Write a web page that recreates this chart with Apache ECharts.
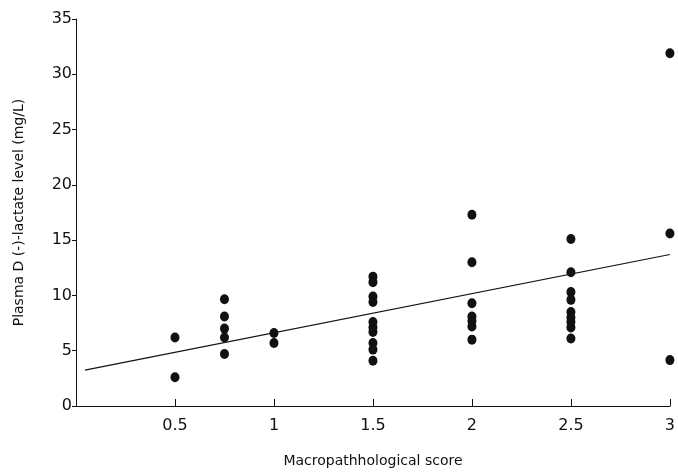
<!DOCTYPE html>
<html>
<head>
<meta charset="utf-8">
<script src="https://cdn.jsdelivr.net/npm/echarts@6/dist/echarts.min.js"></script>
<style>
  html, body { margin: 0; padding: 0; background: #fff; }
  #chart { width: 678px; height: 473px; }
</style>
</head>
<body>
<div id="chart"></div>
<script>
// scores (x) and plasma D(-)-lactate level (y)
const score05 = [6.2, 2.6];
const score075 = [9.65, 8.1, 7.0, 6.2, 4.7];
const score1 = [6.6, 5.7];
const score15 = [11.7, 11.2, 9.9, 9.4, 7.6, 7.1, 6.7, 5.7, 5.1, 4.1];
const score2 = [17.3, 13.0, 9.3, 8.1, 7.7, 7.2, 6.0];
const score25 = [15.1, 12.1, 10.3, 9.6, 8.5, 8.0, 7.6, 7.1, 6.1];
const score3 = [31.9, 15.6, 4.15];

// fitted line end points
const fitX = [0.045, 3];
const fitY = [3.25, 13.7];

const xTicks = [0, 0.5, 1, 1.5, 2, 2.5, 3];
const yTicks = [0, 5, 10, 15, 20, 25, 30, 35];

const groups = [
  [0.5, score05],
  [0.75, score075],
  [1, score1],
  [1.5, score15],
  [2, score2],
  [2.5, score25],
  [3, score3],
];

const points = [];
groups.forEach(g => {
  g[1].forEach(v => points.push([g[0], v]));
});

const fitLine = fitX.map((x, i) => [x, fitY[i]]);

const font = "DejaVu Sans";

const chart = echarts.init(document.getElementById("chart"));
chart.setOption({
  animation: false,
  grid: {
    left: 76,
    right: 2,
    top: 19,
    bottom: 66,
  },
  xAxis: {
    type: "value",
    min: xTicks[0],
    max: xTicks[xTicks.length - 1],
    interval: 0.5,
    name: "Macropathhological score",
    nameLocation: "middle",
    nameGap: 48,
    nameTextStyle: { color: "#111", fontFamily: font, fontSize: 14 },
    splitLine: { show: false },
    axisLine: { lineStyle: { color: "#111", width: 1 } },
    axisTick: { inside: true, length: 7, lineStyle: { color: "#111" } },
    axisLabel: {
      color: "#111",
      fontFamily: font,
      fontSize: 16,
      margin: 12,
      formatter: v => (v === 0 ? "" : String(v)),
    },
  },
  yAxis: {
    type: "value",
    min: yTicks[0],
    max: yTicks[yTicks.length - 1],
    interval: 5,
    name: "Plasma D (-)-lactate level (mg/L)",
    nameLocation: "middle",
    nameGap: 50,
    nameTextStyle: { color: "#111", fontFamily: font, fontSize: 14 },
    splitLine: { show: false },
    axisLine: { show: true, lineStyle: { color: "#111", width: 1 } },
    axisTick: { show: true, length: 4, lineStyle: { color: "#111" } },
    axisLabel: {
      color: "#111",
      fontFamily: font,
      fontSize: 16,
      margin: 4,
    },
  },
  series: [
    {
      type: "line",
      data: fitLine,
      symbol: "none",
      lineStyle: { color: "#111", width: 1.2 },
      z: 2,
    },
    {
      type: "scatter",
      data: points,
      symbol: "circle",
      symbolSize: [9, 10],
      itemStyle: { color: "#111", opacity: 1 },
      z: 3,
    },
  ],
});
</script>
</body>
</html>
